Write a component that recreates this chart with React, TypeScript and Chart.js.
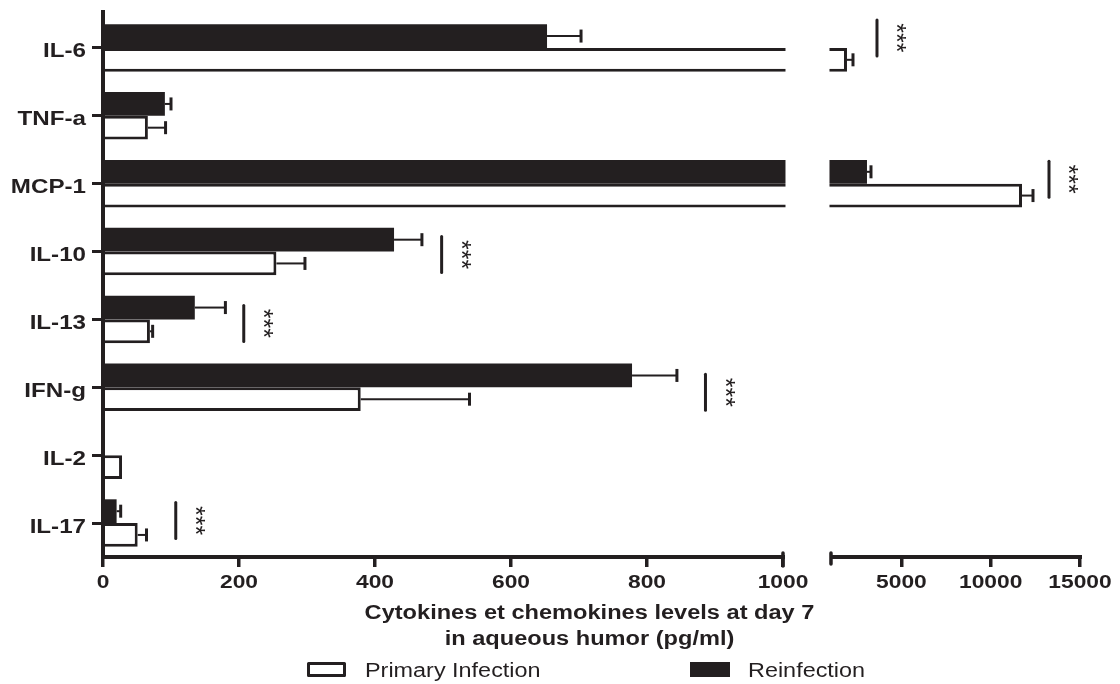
import React, { useEffect, useRef } from 'react';
import { Chart, registerables, LinearScale } from 'chart.js';

Chart.register(...registerables);

// ---------- data ----------
const categories = ['IL-6', 'TNF-a', 'MCP-1', 'IL-10', 'IL-13', 'IFN-g', 'IL-2', 'IL-17'];
const primaryInfection = [1952, 66, 11752, 255, 69, 379, 28, 51];
const primaryError = [336, 26, 616, 42, 4, 160, 0, 13];
const reinfection = [653, 91, 3072, 428, 135, 778, 0, 20];
const reinfectionError = [50, 9, 224, 41, 45, 66, 0, 6];
const significanceAt = [3632, null, 13264, 498, 207, 886, null, 107];
const significanceText = ['***', '', '***', '***', '***', '***', '', '***'];
const xTickValues = [0, 200, 400, 600, 800, 1000, 5000, 10000, 15000];
const axisBreakValue = 1000;
const xMin = 0;
const xMax = 15000;
const legendLabels = ['Primary Infection', 'Reinfection'];
const axisTitleLines = ['Cytokines et chemokines levels at day 7', 'in aqueous humor (pg/ml)'];

// ---------- style ----------
const INK = '#231f20';
const FONT = "'Liberation Sans', Arial, Helvetica, sans-serif";

class BrokenLinearScale extends LinearScale {
  static id = 'brokenLinear';
  static defaults = {};
  buildTicks() {
    return xTickValues.map((v) => ({ value: v }));
  }
  breakPixels() {
    const o: any = this.options;
    const w = this.right - this.left;
    return { from: this.left + w * o.breakFrom, to: this.left + w * o.breakTo };
  }
  getPixelForValue(value: any) {
    if (value === null || value === undefined || isNaN(value)) return NaN;
    const { from, to } = this.breakPixels();
    if (value <= axisBreakValue) {
      return this.left + ((value - this.min) / (axisBreakValue - this.min)) * (from - this.left);
    }
    return to + ((value - axisBreakValue) / (this.max - axisBreakValue)) * (this.right - to);
  }
  getValueForPixel(pixel: number) {
    const { from, to } = this.breakPixels();
    if (pixel <= from) return this.min + ((pixel - this.left) / (from - this.left)) * (axisBreakValue - this.min);
    if (pixel < to) return axisBreakValue;
    return axisBreakValue + ((pixel - to) / (this.right - to)) * (this.max - axisBreakValue);
  }
}
Chart.register(BrokenLinearScale as any);

function stretchedText(ctx: CanvasRenderingContext2D, text: string, x: number, y: number, font: string, sx: number, align: CanvasTextAlign) {
  ctx.save();
  ctx.translate(x, y);
  ctx.scale(sx, 1);
  ctx.font = font;
  ctx.textAlign = align;
  ctx.textBaseline = 'alphabetic';
  ctx.fillStyle = INK;
  ctx.fillText(text, 0, 0);
  ctx.restore();
}

const decorPlugin = {
  id: 'decor',
  afterDatasetsDraw(chart: any, _args: any, opts: any) {
    const ctx: CanvasRenderingContext2D = chart.ctx;
    const xs: any = chart.scales.x;
    const ys: any = chart.scales.y;
    const area = chart.chartArea;
    const { from, to } = xs.breakPixels();
    const axisY = area.bottom;

    // axis break gap
    ctx.save();
    ctx.fillStyle = '#ffffff';
    ctx.fillRect(from + 2.5, area.top - 8, to - from - 3, axisY - area.top + 5);
    ctx.restore();

    // error bars
    const series = [
      { values: reinfection, errors: reinfectionError },
      { values: primaryInfection, errors: primaryError },
    ];
    ctx.save();
    ctx.strokeStyle = INK;
    series.forEach((s, d) => {
      const meta = chart.getDatasetMeta(d);
      meta.data.forEach((bar: any, i: number) => {
        const err = s.errors[i];
        if (!err) return;
        const x0 = xs.getPixelForValue(s.values[i]);
        const x1 = xs.getPixelForValue(s.values[i] + err);
        const y = bar.y;
        ctx.lineWidth = 2;
        ctx.beginPath();
        ctx.moveTo(x0, y);
        ctx.lineTo(x1, y);
        ctx.stroke();
        ctx.lineWidth = 3;
        ctx.beginPath();
        ctx.moveTo(x1, y - 6.5);
        ctx.lineTo(x1, y + 6.5);
        ctx.stroke();
      });
    });
    ctx.restore();

    // axis lines
    ctx.save();
    ctx.strokeStyle = INK;
    ctx.lineWidth = 4;
    ctx.lineCap = 'butt';
    const p0 = xs.getPixelForValue(xMin);
    const pb = xs.getPixelForValue(axisBreakValue);
    const pEnd = xs.getPixelForValue(xMax);
    ctx.beginPath();
    ctx.moveTo(p0, area.top - 4);
    ctx.lineTo(p0, axisY + 2);
    ctx.moveTo(p0 - 2, axisY);
    ctx.lineTo(pb + 2, axisY);
    ctx.moveTo(to, axisY);
    ctx.lineTo(pEnd + 2, axisY);
    ctx.stroke();
    ctx.lineCap = 'round';
    ctx.lineWidth = 3.5;
    ctx.beginPath();
    ctx.moveTo(pb, axisY - 4);
    ctx.lineTo(pb, axisY + 9);
    ctx.moveTo(to + 1, axisY - 4);
    ctx.lineTo(to + 1, axisY + 7);
    ctx.stroke();
    ctx.restore();

    // significance marks
    const shifts: number[] = opts.shifts;
    significanceAt.forEach((v, i) => {
      if (v === null) return;
      const x = xs.getPixelForValue(v);
      const yc = ys.getPixelForValue(i) + (shifts[i] || 0);
      ctx.save();
      ctx.strokeStyle = INK;
      ctx.lineWidth = 3;
      ctx.lineCap = 'round';
      ctx.beginPath();
      ctx.moveTo(x, yc - 18);
      ctx.lineTo(x, yc + 18);
      ctx.stroke();
      ctx.translate(x + 26, yc);
      ctx.rotate(Math.PI / 2);
      ctx.font = `25px ${FONT}`;
      ctx.textAlign = 'center';
      ctx.textBaseline = 'alphabetic';
      ctx.fillStyle = INK;
      ctx.fillText(significanceText[i], 0, 0.58 * 25);
      ctx.restore();
    });
  },
  afterDraw(chart: any) {
    const ctx: CanvasRenderingContext2D = chart.ctx;
    const xs: any = chart.scales.x;
    const ys: any = chart.scales.y;
    const area = chart.chartArea;

    // y labels
    categories.forEach((c, i) => {
      const y = ys.getPixelForValue(i);
      stretchedText(ctx, c, ys.right - 17, y + 9.5, `bold 21px ${FONT}`, 1.15, 'right');
    });
    // x labels
    xTickValues.forEach((v) => {
      stretchedText(ctx, String(v), xs.getPixelForValue(v), area.bottom + 31, `bold 19px ${FONT}`, 1.2, 'center');
    });
    // axis title
    const cx = (xs.left + xs.right) / 2 - 2;
    stretchedText(ctx, axisTitleLines[0], cx, 619, `bold 19.5px ${FONT}`, 1.21, 'center');
    stretchedText(ctx, axisTitleLines[1], cx, 645, `bold 19.5px ${FONT}`, 1.21, 'center');

    // legend
    ctx.save();
    ctx.lineJoin = 'round';
    ctx.fillStyle = '#ffffff';
    ctx.strokeStyle = INK;
    ctx.lineWidth = 3;
    ctx.fillRect(308.5, 663.5, 36, 12);
    ctx.strokeRect(308.5, 663.5, 36, 12);
    ctx.fillStyle = INK;
    ctx.fillRect(690, 662, 40, 15);
    ctx.restore();
    stretchedText(ctx, legendLabels[0], 365, 677, `19.5px ${FONT}`, 1.2, 'left');
    stretchedText(ctx, legendLabels[1], 748, 677, `19.5px ${FONT}`, 1.2, 'left');
  },
};

export default function App() {
  const ref = useRef<HTMLCanvasElement>(null);
  useEffect(() => {
    const canvas = ref.current;
    if (!canvas) return;
    const chart = new Chart(canvas, {
      type: 'bar',
      data: {
        labels: categories,
        datasets: [
          {
            label: legendLabels[1],
            data: reinfection,
            backgroundColor: INK,
            borderColor: INK,
            borderWidth: 0,
            categoryPercentage: 0.7,
            barPercentage: 1,
          },
          {
            label: legendLabels[0],
            data: primaryInfection,
            backgroundColor: '#ffffff',
            borderColor: INK,
            borderWidth: 3,
            categoryPercentage: 0.7,
            barPercentage: 1,
          },
        ],
      },
      options: {
        indexAxis: 'y',
        responsive: false,
        animation: false,
        devicePixelRatio: 1,
        layout: { padding: { left: 0, top: 14, right: 40, bottom: 0 } },
        plugins: {
          legend: { display: false },
          tooltip: { enabled: false },
          decor: { shifts: [-10, 0, -4.5, 3, 4, 5, 0, -2.5] },
        } as any,
        scales: {
          x: {
            type: 'brokenLinear',
            min: xMin,
            max: xMax,
            breakFrom: 0.696,
            breakTo: 0.7441,
            border: { display: false },
            grid: { drawOnChartArea: false, drawTicks: true, tickLength: 10, lineWidth: 3.5, color: INK },
            ticks: { display: false, autoSkip: false },
            afterFit: (s: any) => { s.height = 127; },
          } as any,
          y: {
            type: 'category',
            border: { display: false },
            grid: { drawOnChartArea: false, offset: false, drawTicks: true, tickLength: 11, lineWidth: 3, color: INK },
            ticks: { display: false },
            afterFit: (s: any) => { s.width = 103; },
          } as any,
        },
      },
      plugins: [decorPlugin],
    } as any);
    return () => chart.destroy();
  }, []);
  return (
    <div style={{ position: 'absolute', left: 0, top: 0, width: 1120, height: 684, background: '#ffffff', overflow: 'hidden' }}>
      <canvas ref={ref} width={1120} height={684} style={{ display: 'block', width: 1120, height: 684 }} />
    </div>
  );
}
